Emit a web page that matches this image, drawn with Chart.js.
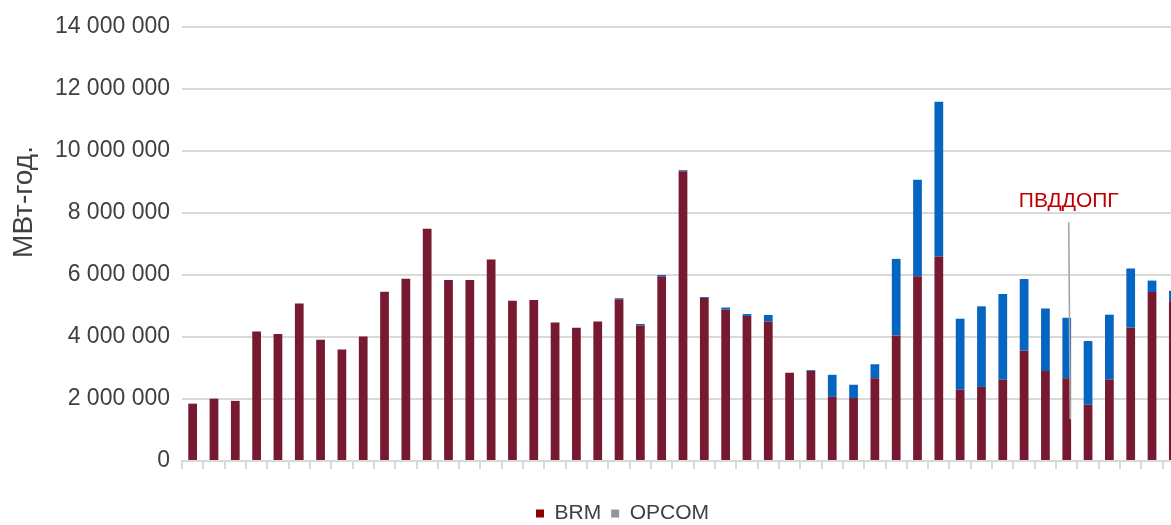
<!DOCTYPE html>
<html>
<head>
<meta charset="utf-8">
<script src="https://cdn.jsdelivr.net/npm/chart.js@4.4.1/dist/chart.umd.min.js"></script>
<style>
  html, body { margin: 0; padding: 0; background: #ffffff; overflow: hidden; width: 1171px; height: 525px; }
  #wrap { position: absolute; left: 0; top: 0; width: 1184px; height: 534px; }
</style>
</head>
<body>
<div id="wrap"><canvas id="chart" width="1184" height="534"></canvas></div>
<script>
// Periods along the x axis (no labels are printed on the axis)
const periods = Array.from({ length: 47 }, (_, i) => String(i + 1));

// Volumes, MWh per year
const brm = [
  1850000, 2010000, 1940000, 4180000, 4100000, 5080000, 3910000, 3600000, 4020000, 5460000,
  5880000, 7490000, 5840000, 5840000, 6500000, 5170000, 5190000, 4470000, 4300000, 4500000,
  5220000, 4370000, 5950000, 9350000, 5260000, 4880000, 4680000, 4500000, 2850000, 2900000,
  2070000, 2030000, 2670000, 4050000, 5960000, 6600000, 2300000, 2390000, 2620000, 3560000,
  2900000, 2670000, 1820000, 2630000, 4300000, 5450000, 5150000
];
const opcom = [
  0, 0, 0, 0, 0, 0, 0, 0, 0, 0,
  0, 0, 0, 0, 0, 0, 0, 0, 0, 0,
  30000, 50000, 50000, 30000, 30000, 70000, 60000, 210000, 0, 30000,
  710000, 430000, 450000, 2470000, 3110000, 4990000, 2290000, 2600000, 2770000, 2310000,
  2020000, 1950000, 2050000, 2090000, 1910000, 370000, 340000
];

const yTicks = [0, 2000000, 4000000, 6000000, 8000000, 10000000, 12000000, 14000000];
const seriesNames = ['BRM', 'OPCOM'];
const yTitle = 'МВт-год.';
const callout = { text: 'ПВДДОПГ', index: 41, from: 7700000, to: 1350000 };

const FONT = '"Liberation Sans", Arial, sans-serif';
const BAR_COLORS = ['#761931', '#0566c1'];
const KEY_COLORS = ['#8b0000', '#969696'];
const TEXT = '#404040';
const GRID = '#d9d9d9';

const fmt = v => String(v).replace(/\B(?=(\d{3})+(?!\d))/g, ' ');

// Centre the legend row under the plotted bars
const legendPlacement = {
  id: 'legendPlacement',
  afterLayout(chart) {
    const lg = chart.legend;
    if (!lg) return;
    const dx = 622.5 - (lg.left + lg.right) / 2;
    lg.left += dx;
    lg.right += dx;
  }
};

// Rotated unit label beside the value axis
const unitLabel = {
  id: 'unitLabel',
  afterDraw(chart) {
    const { ctx, chartArea } = chart;
    ctx.save();
    ctx.font = '28px ' + FONT;
    ctx.fillStyle = TEXT;
    ctx.textAlign = 'center';
    ctx.textBaseline = 'middle';
    ctx.translate(24, chartArea.top + 175);
    ctx.rotate(-Math.PI / 2);
    ctx.fillText(yTitle, 0, 0);
    ctx.restore();
  }
};

// Marker line with its caption
const calloutMark = {
  id: 'calloutMark',
  afterDatasetsDraw(chart) {
    const { ctx, scales: { x, y } } = chart;
    const cx = x.getPixelForValue(callout.index);
    const yTop = y.getPixelForValue(callout.from);
    const yBot = y.getPixelForValue(callout.to);
    ctx.save();
    ctx.strokeStyle = '#a6a6a6';
    ctx.lineWidth = 1.6;
    ctx.beginPath();
    ctx.moveTo(cx + 2, yTop);
    ctx.lineTo(cx + 3.5, yBot);
    ctx.stroke();
    ctx.font = '21px ' + FONT;
    ctx.fillStyle = '#c00000';
    ctx.textAlign = 'center';
    ctx.textBaseline = 'alphabetic';
    ctx.fillText(callout.text, cx + 2, yTop - 15);
    ctx.restore();
  }
};

new Chart(document.getElementById('chart'), {
  type: 'bar',
  data: {
    labels: periods,
    datasets: [
      { label: seriesNames[0], data: brm, backgroundColor: BAR_COLORS[0] },
      { label: seriesNames[1], data: opcom, backgroundColor: BAR_COLORS[1] }
    ]
  },
  options: {
    responsive: false,
    animation: false,
    devicePixelRatio: 1,
    layout: { padding: { top: 27, left: 0, right: 0, bottom: 0 } },
    datasets: { bar: { barPercentage: 0.41, categoryPercentage: 1 } },
    scales: {
      x: {
        stacked: true,
        offset: true,
        ticks: { display: false },
        grid: { display: true, offset: true, drawOnChartArea: false, drawTicks: true, tickLength: 8, color: GRID, lineWidth: 2 },
        border: { display: true, color: GRID, width: 2 },
        afterFit(scale) { scale.height = 32; }
      },
      y: {
        stacked: true,
        min: 0,
        max: 14000000,
        afterBuildTicks(scale) { scale.ticks = yTicks.map(v => ({ value: v })); },
        ticks: {
          padding: 12,
          color: TEXT,
          font: { family: FONT, size: 23 },
          callback: v => fmt(v)
        },
        grid: { color: GRID, lineWidth: 2, drawTicks: false },
        border: { display: false },
        afterFit(scale) { scale.width = 182; }
      }
    },
    plugins: {
      tooltip: { enabled: false },
      legend: {
        position: 'bottom',
        align: 'center',
        labels: {
          boxWidth: 8,
          boxHeight: 8,
          padding: 10,
          color: TEXT,
          font: { family: FONT, size: 21 },
          generateLabels: () => seriesNames.map((name, i) => ({
            text: name,
            fillStyle: KEY_COLORS[i],
            strokeStyle: KEY_COLORS[i],
            lineWidth: 0,
            fontColor: TEXT,
            datasetIndex: i,
            hidden: false
          }))
        }
      }
    }
  },
  plugins: [legendPlacement, unitLabel, calloutMark]
});
</script>
</body>
</html>
